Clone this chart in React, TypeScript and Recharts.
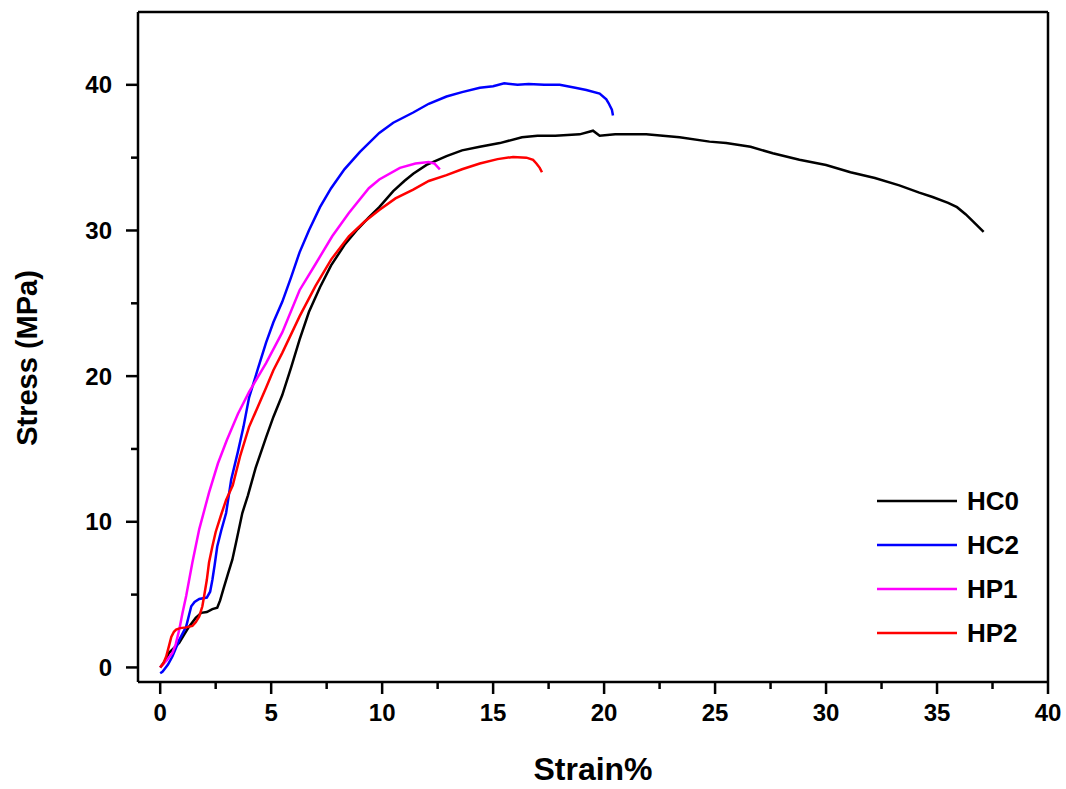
import React from 'react';
import { LineChart, Line, XAxis, YAxis, ReferenceLine, Legend } from 'recharts';

type Pt = [number, number];

const seriesNames = ['HC0', 'HC2', 'HP1', 'HP2'];
const seriesColors = ['#000000', '#0000ff', '#ff00ff', '#ff0000'];

const hc0: Pt[] = [
  [0, 0], [0.2, 0.4], [0.4, 1.0], [0.6, 1.3], [0.86, 1.7], [1.1, 2.3], [1.3, 2.8], [1.6, 3.4],
  [1.85, 3.75], [2.1, 3.8], [2.35, 4.0], [2.57, 4.1], [2.7, 4.6], [2.85, 5.4], [3.05, 6.4],
  [3.25, 7.4], [3.45, 8.8], [3.7, 10.6], [3.95, 11.8], [4.3, 13.7], [4.77, 15.8], [5.1, 17.2],
  [5.5, 18.7], [5.9, 20.6], [6.28, 22.5], [6.7, 24.4], [7.2, 26.1], [7.7, 27.6], [8.3, 29.0],
  [8.9, 30.1], [9.4, 30.9], [9.87, 31.6], [10.5, 32.7], [11.0, 33.4], [11.4, 33.9], [12.0, 34.5],
  [12.9, 35.1], [13.6, 35.5], [14.4, 35.75], [15.3, 36.0], [16.3, 36.4], [17.0, 36.5],
  [17.8, 36.5], [18.9, 36.6], [19.5, 36.85], [19.8, 36.5], [20.5, 36.6], [21.9, 36.6],
  [23.4, 36.4], [24.75, 36.1], [25.5, 36.0], [26.6, 35.75], [27.6, 35.3], [28.8, 34.85],
  [30.0, 34.5], [31.1, 34.0], [32.2, 33.6], [33.3, 33.1], [34.2, 32.6], [34.8, 32.3],
  [35.5, 31.9], [35.9, 31.6], [36.3, 31.1], [36.7, 30.5], [37.1, 29.9],
];

const hc2: Pt[] = [
  [0, -0.4], [0.1, -0.3], [0.2, -0.1], [0.35, 0.2], [0.55, 0.75], [0.7, 1.3], [0.86, 1.9],
  [1.0, 2.3], [1.17, 2.8], [1.3, 3.6], [1.4, 4.2], [1.55, 4.5], [1.76, 4.7], [2.1, 4.8],
  [2.25, 5.2], [2.35, 6.0], [2.45, 7.0], [2.57, 8.3], [2.75, 9.4], [2.97, 10.6], [3.2, 12.9],
  [3.5, 14.8], [3.75, 16.5], [4.0, 18.5], [4.4, 20.5], [4.77, 22.3], [5.1, 23.7], [5.5, 25.1],
  [5.9, 26.8], [6.28, 28.5], [6.7, 30.0], [7.2, 31.6], [7.7, 32.9], [8.3, 34.2], [9.0, 35.4],
  [9.87, 36.7], [10.5, 37.4], [11.4, 38.1], [12.1, 38.7], [12.9, 39.2], [13.6, 39.5],
  [14.4, 39.8], [15.0, 39.9], [15.5, 40.1], [16.1, 40.0], [16.6, 40.05], [17.3, 40.0],
  [18.0, 40.0], [18.7, 39.8], [19.2, 39.65], [19.8, 39.4], [20.1, 39.0], [20.2, 38.75],
  [20.35, 38.3], [20.4, 37.9],
];

const hp1: Pt[] = [
  [0, 0], [0.3, 0.5], [0.55, 1.0], [0.7, 1.6], [0.86, 2.6], [1.0, 3.7], [1.17, 4.9],
  [1.45, 7.2], [1.76, 9.5], [2.2, 12.0], [2.6, 14.0], [3.0, 15.6], [3.5, 17.4], [4.0, 18.9],
  [4.77, 20.9], [5.5, 23.0], [6.28, 25.9], [7.0, 27.7], [7.75, 29.6], [8.5, 31.2], [9.4, 32.9],
  [9.87, 33.5], [10.8, 34.3], [11.5, 34.6], [12.1, 34.7], [12.35, 34.6], [12.6, 34.2],
];

const hp2: Pt[] = [
  [0, 0], [0.15, 0.3], [0.27, 0.75], [0.4, 1.5], [0.5, 2.1], [0.62, 2.45], [0.72, 2.6],
  [0.9, 2.7], [1.17, 2.75], [1.45, 2.85], [1.6, 3.1], [1.76, 3.5], [1.9, 4.2], [1.98, 4.9],
  [2.1, 6.0], [2.2, 7.2], [2.35, 8.3], [2.5, 9.3], [2.75, 10.5], [2.97, 11.5], [3.27, 12.5],
  [3.6, 14.5], [4.0, 16.5], [4.4, 17.9], [4.77, 19.2], [5.1, 20.4], [5.5, 21.6], [6.28, 24.1],
  [7.0, 26.2], [7.7, 28.0], [8.5, 29.6], [9.2, 30.6], [9.87, 31.4], [10.6, 32.2], [11.4, 32.8],
  [12.1, 33.4], [12.9, 33.8], [13.6, 34.2], [14.4, 34.6], [15.2, 34.9], [15.9, 35.05],
  [16.5, 35.0], [16.8, 34.85], [16.95, 34.6], [17.1, 34.3], [17.2, 34.0],
];

const xTicks = [0, 2.5, 5, 7.5, 10, 12.5, 15, 17.5, 20, 22.5, 25, 27.5, 30, 32.5, 35, 37.5, 40];
const yTicks = [0, 5, 10, 15, 20, 25, 30, 35, 40];
const xMajor = [0, 5, 10, 15, 20, 25, 30, 35, 40];
const yMajor = [0, 10, 20, 30, 40];

const allSeries = [hc0, hc2, hp1, hp2];
const toData = (pts: Pt[]) => pts.map(([x, y]) => ({ x, y }));

const FONT = '"Liberation Sans", Arial, sans-serif';

const XTick = (props: any) => {
  const { x, y, payload } = props;
  const major = xMajor.includes(payload.value);
  return (
    <g>
      <line x1={x} y1={y} x2={x} y2={y + (major ? 12 : 7)} stroke="#000" strokeWidth={2.5} />
      {major && (
        <text x={x} y={y + 39} textAnchor="middle" fontSize={24} fontWeight="bold" fontFamily={FONT} fill="#000">
          {payload.value}
        </text>
      )}
    </g>
  );
};

const YTick = (props: any) => {
  const { x, y, payload } = props;
  const major = yMajor.includes(payload.value);
  return (
    <g>
      <line x1={x - (major ? 12 : 7)} y1={y} x2={x} y2={y} stroke="#000" strokeWidth={2.5} />
      {major && (
        <text x={x - 26} y={y + 8.5} textAnchor="end" fontSize={24} fontWeight="bold" fontFamily={FONT} fill="#000">
          {payload.value}
        </text>
      )}
    </g>
  );
};

const LegendContent = () => (
  <div style={{ fontFamily: FONT }}>
    {seriesNames.map((name, i) => (
      <div key={name} style={{ display: 'flex', alignItems: 'center', height: 44, lineHeight: '44px' }}>
        <svg width={80} height={4} style={{ display: 'block' }}>
          <line x1={0} y1={2} x2={80} y2={2} stroke={seriesColors[i]} strokeWidth={2.5} />
        </svg>
        <span style={{ marginLeft: 10, fontSize: 26, fontWeight: 'bold', color: '#000' }}>{name}</span>
      </div>
    ))}
  </div>
);

export default function App() {
  return (
    <div style={{ position: 'absolute', left: 0, top: 0, background: '#fff' }}>
      <LineChart width={1066} height={789} margin={{ top: 12, right: 18, bottom: 47, left: 58 }}>
        <XAxis
          type="number"
          dataKey="x"
          domain={[-1, 40]}
          ticks={xTicks}
          interval={0}
          allowDataOverflow
          height={60}
          tickSize={0}
          tickMargin={0}
          tickLine={false}
          tick={<XTick />}
          axisLine={{ stroke: '#000', strokeWidth: 2.5 }}
          label={{
            content: () => (
              <text x={593} y={780} textAnchor="middle" fontSize={32} fontWeight="bold" fontFamily={FONT} fill="#000">
                Strain%
              </text>
            ),
          }}
        />
        <YAxis
          type="number"
          domain={[-1, 45]}
          ticks={yTicks}
          interval={0}
          allowDataOverflow
          width={80}
          tickSize={0}
          tickMargin={0}
          tickLine={false}
          tick={<YTick />}
          axisLine={{ stroke: '#000', strokeWidth: 2.5 }}
          label={{
            content: () => (
              <text
                x={27}
                y={358}
                transform="rotate(-90 27 358)"
                textAnchor="middle"
                dominantBaseline="central"
                fontSize={29}
                fontWeight="bold"
                fontFamily={FONT}
                fill="#000"
              >
                Stress (MPa)
              </text>
            ),
          }}
        />
        <ReferenceLine y={45} stroke="#000" strokeWidth={2.5} />
        <ReferenceLine x={40} stroke="#000" strokeWidth={2.5} />
        {allSeries.map((pts, i) => (
          <Line
            key={seriesNames[i]}
            data={toData(pts)}
            dataKey="y"
            name={seriesNames[i]}
            type="linear"
            stroke={seriesColors[i]}
            strokeWidth={2.5}
            dot={false}
            activeDot={false}
            isAnimationActive={false}
          />
        ))}
        <Legend
          layout="vertical"
          align="center"
          verticalAlign="middle"
          content={<LegendContent />}
          wrapperStyle={{ left: 877, top: 479, width: 170, height: 176 }}
        />
      </LineChart>
    </div>
  );
}
